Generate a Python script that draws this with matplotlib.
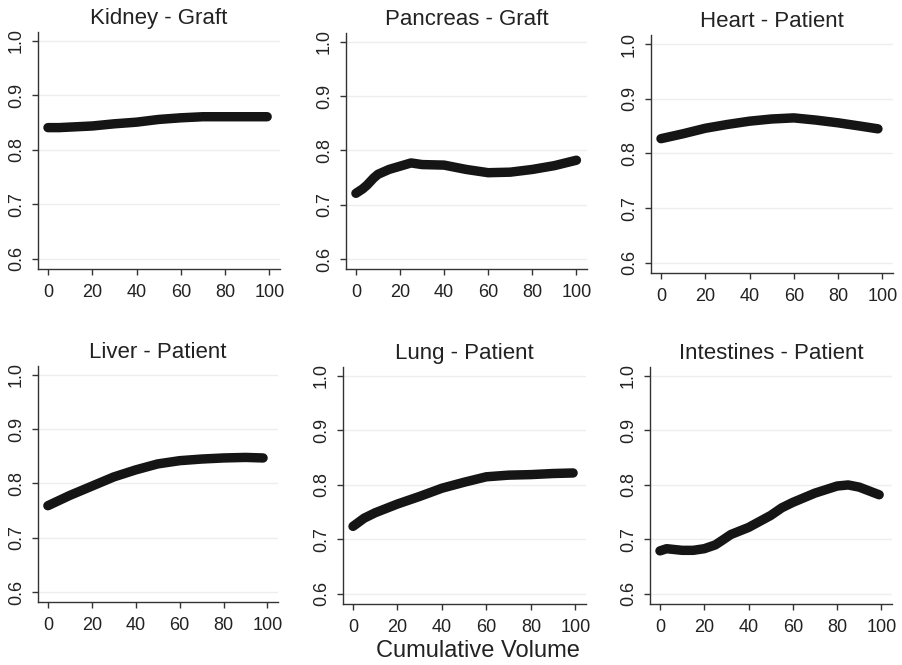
import numpy as np
import matplotlib.pyplot as plt

plt.rcParams['font.family'] = ['Liberation Sans', 'DejaVu Sans']

# panel titles
titles = ['Kidney - Graft', 'Pancreas - Graft', 'Heart - Patient',
          'Liver - Patient', 'Lung - Patient', 'Intestines - Patient']

# curves (cumulative volume -> probability)
kidney_x = [0, 5, 10, 20, 30, 40, 50, 60, 70, 80, 90, 99]
kidney_y = [0.841, 0.841, 0.842, 0.844, 0.848, 0.851, 0.856, 0.859, 0.861, 0.861, 0.861, 0.861]

pancreas_x = [0, 3, 5, 8, 10, 15, 20, 25, 30, 40, 50, 60, 70, 80, 90, 100]
pancreas_y = [0.721, 0.729, 0.736, 0.749, 0.756, 0.765, 0.771, 0.777, 0.774, 0.773, 0.765, 0.759,
              0.760, 0.765, 0.772, 0.782]

heart_x = [0, 10, 20, 30, 40, 50, 60, 70, 80, 90, 98]
heart_y = [0.827, 0.836, 0.846, 0.853, 0.859, 0.863, 0.865, 0.861, 0.856, 0.850, 0.845]

liver_x = [0, 10, 20, 30, 40, 50, 60, 70, 80, 90, 98]
liver_y = [0.759, 0.778, 0.795, 0.812, 0.825, 0.836, 0.842, 0.845, 0.847, 0.848, 0.847]

lung_x = [0, 5, 10, 20, 30, 40, 50, 60, 70, 80, 90, 99]
lung_y = [0.724, 0.739, 0.749, 0.765, 0.779, 0.794, 0.805, 0.815, 0.818, 0.819, 0.821, 0.822]

intest_x = [0, 3, 10, 15, 20, 25, 28, 32, 40, 50, 55, 60, 70, 80, 85, 90, 99]
intest_y = [0.679, 0.683, 0.680, 0.680, 0.683, 0.690, 0.698, 0.709, 0.722, 0.744, 0.758, 0.768,
            0.785, 0.798, 0.800, 0.796, 0.782]

series = [(kidney_x, kidney_y), (pancreas_x, pancreas_y), (heart_x, heart_y),
          (liver_x, liver_y), (lung_x, lung_y), (intest_x, intest_y)]

xticks = [0, 20, 40, 60, 80, 100]
yticks = [0.6, 0.7, 0.8, 0.9, 1.0]

W, H = 903, 665
# axes boxes in pixels: left, right, top, bottom
boxes = [(38, 280, 32, 269), (346, 587, 33, 269), (651, 893, 35, 273),
         (38, 278, 366, 602), (343, 586, 367, 604), (650, 892, 367, 604)]

fig = plt.figure(figsize=(W / 100, H / 100), dpi=100)

for (L, R, T, B), title, (xs, ys) in zip(boxes, titles, series):
    ax = fig.add_axes([L / W, 1 - B / H, (R - L) / W, (B - T) / H])
    ax.plot(xs, ys, color='#151515', lw=6.8, solid_capstyle='round',
            solid_joinstyle='round', zorder=3)
    ax.set_xlim(-4.5, 104.8)
    ax.set_ylim(0.5815, 1.0165)
    ax.set_xticks(xticks)
    ax.set_yticks(yticks)
    ax.set_yticklabels(['%.1f' % v for v in yticks], rotation=90, va='center')
    for v in yticks:
        ax.axhline(v, color='#eeeeee', lw=1, zorder=1)
    for s in ['top', 'right']:
        ax.spines[s].set_visible(False)
    for s in ['left', 'bottom']:
        ax.spines[s].set_color('#333333')
        ax.spines[s].set_linewidth(1)
    ax.tick_params(axis='both', direction='out', length=4, width=1, color='#333333',
                   labelsize=13, labelcolor='#222222')
    ax.tick_params(axis='x', pad=6.5)
    ax.tick_params(axis='y', pad=5.5)
    ax.set_title(title, fontsize=16, color='#222222', pad=6)

fig.text(478 / W, 1 - 651 / H, 'Cumulative Volume', fontsize=17, color='#222222',
         ha='center', va='center')

fig.savefig('out.png', dpi=100)
